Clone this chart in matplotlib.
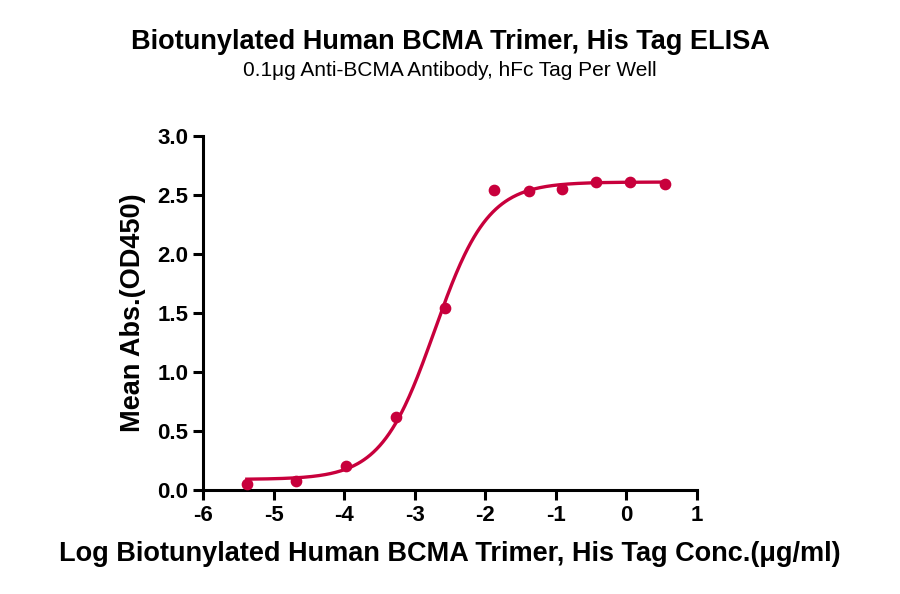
import numpy as np
import matplotlib
matplotlib.use("Agg")
import matplotlib.pyplot as plt

plt.rcParams['font.family'] = ['Liberation Sans', 'DejaVu Sans']
plt.rcParams['axes.unicode_minus'] = False

# measured points (log conc, OD450)
log_conc = [-5.38, -4.68, -3.97, -3.27, -2.57, -1.88, -1.38, -0.92, -0.43, 0.05, 0.54]
mean_abs = [0.05, 0.08, 0.20, 0.62, 1.54, 2.54, 2.53, 2.55, 2.61, 2.61, 2.59]

# 4PL fit parameters (estimated from the curve)
fit_bottom = 0.09
fit_top = 2.61
fit_logec50 = -2.72
fit_hill = 1.15

color = '#C8003C'

fig = plt.figure(figsize=(9, 5.94), dpi=100)
ax = fig.add_axes([0.2256, 0.175, 0.5489, 0.596])

xs = np.linspace(min(log_conc), max(log_conc), 400)
ys = fit_bottom + (fit_top - fit_bottom) / (1 + 10 ** ((fit_logec50 - xs) * fit_hill))
ax.plot(xs, ys, color=color, lw=2.4)
ax.scatter(log_conc, mean_abs, s=55, color=color, zorder=3)

ax.set_xlim(-6, 1)
ax.set_ylim(0, 3)
ax.set_xticks(range(-6, 2))
ax.set_yticks([0, 0.5, 1.0, 1.5, 2.0, 2.5, 3.0])
ax.set_yticklabels(['0.0', '0.5', '1.0', '1.5', '2.0', '2.5', '3.0'])
for s in ['top', 'right']:
    ax.spines[s].set_visible(False)
for s in ['left', 'bottom']:
    ax.spines[s].set_linewidth(2.2)
ax.tick_params(width=2.2, length=7, labelsize=16)
for lab in ax.get_xticklabels() + ax.get_yticklabels():
    lab.set_fontweight('bold')

ax.set_xlabel('Log Biotunylated Human BCMA Trimer, His Tag Conc.(μg/ml)',
              fontsize=19.5, fontweight='bold')
ax.xaxis.set_label_coords(0.5, -0.145)
ax.set_ylabel('Mean Abs.(OD450)', fontsize=19.5, fontweight='bold')
ax.yaxis.set_label_coords(-0.115, 0.5)

fig.text(0.5, 0.929, 'Biotunylated Human BCMA Trimer, His Tag ELISA',
         ha='center', va='center', fontsize=19.5, fontweight='bold')
fig.text(0.5, 0.882, '0.1μg Anti-BCMA Antibody, hFc Tag Per Well',
         ha='center', va='center', fontsize=15)

fig.savefig('out.png', dpi=100)
